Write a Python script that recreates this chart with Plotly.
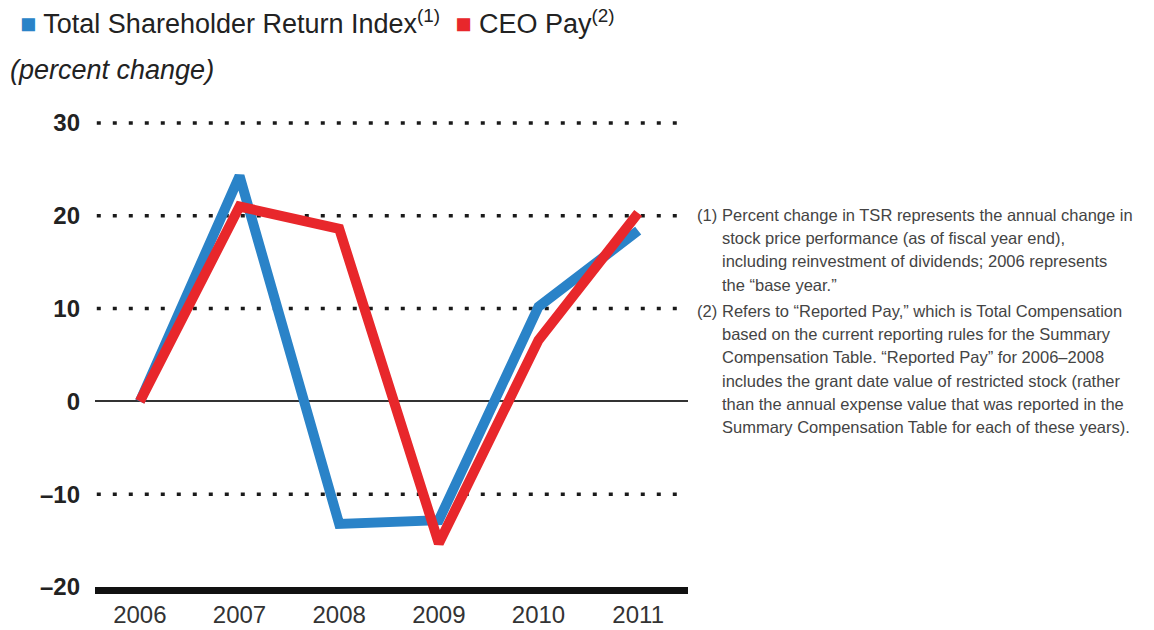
import plotly.graph_objects as go

# Data
years = [2006, 2007, 2008, 2009, 2010, 2011]
tsr_change = [0, 24.3, -13.2, -12.8, 10.2, 18.4]
ceo_pay_change = [0, 21.0, 18.6, -15.3, 6.6, 20.3]
y_ticks = [-20, -10, 0, 10, 20, 30]
y_tick_labels = ["–20", "–10", "0", "10", "20", "30"]

footnote_1 = [
    "Percent change in TSR represents the annual change in",
    "stock price performance (as of fiscal year end),",
    "including reinvestment of dividends; 2006 represents",
    "the “base year.”",
]
footnote_2 = [
    "Refers to “Reported Pay,” which is Total Compensation",
    "based on the current reporting rules for the Summary",
    "Compensation Table. “Reported Pay” for 2006–2008",
    "includes the grant date value of restricted stock (rather",
    "than the annual expense value that was reported in the",
    "Summary Compensation Table for each of these years).",
]

BLUE = "#2A83C8"
RED = "#E8272B"
FONT = "Liberation Sans, Arial, sans-serif"

W, H = 1154, 630
L, R, T, B = 95, 466, 119, 43
PW, PH = W - L - R, H - T - B
# 464 px spans the -20..30 scale; a little headroom keeps the top dotted line unclipped
Y_TOP = 30 + (PH - 464) * 50 / 464


def px(x, y):
    """Convert page pixel coordinates to paper coordinates."""
    return (x - L) / PW, (H - B - y) / PH


fig = go.Figure()
fig.add_trace(go.Scatter(x=years, y=tsr_change, mode="lines",
                         line=dict(color=BLUE, width=10),
                         name="Total Shareholder Return Index",
                         hoverinfo="x+y"))
fig.add_trace(go.Scatter(x=years, y=ceo_pay_change, mode="lines",
                         line=dict(color=RED, width=10),
                         name="CEO Pay", hoverinfo="x+y"))

fig.update_layout(
    width=W, height=H,
    margin=dict(l=L, r=R, t=T, b=B, autoexpand=False),
    paper_bgcolor="white", plot_bgcolor="white",
    showlegend=False,
    font=dict(family=FONT, color="#222"),
)

fig.update_xaxes(
    range=[2005.55, 2011.5],
    tickvals=years, ticktext=[str(y) for y in years],
    tickfont=dict(size=24, color="#333"),
    ticks="", ticklabelstandoff=0,
    showgrid=False, zeroline=False,
    showline=True, linecolor="#111", linewidth=7,
)
fig.update_yaxes(
    range=[-20, Y_TOP],
    tickvals=y_ticks, ticktext=y_tick_labels,
    tickfont=dict(size=24, color="#222", weight="bold"),
    ticks="", ticklabelstandoff=14,
    showgrid=False,
    zeroline=True, zerolinecolor="#333", zerolinewidth=1.5,
    showline=False,
)

# Dotted gridlines at every tick except the zero line and the base axis
for v in y_ticks:
    if v in (0, y_ticks[0]):
        continue
    fig.add_shape(type="line", xref="paper", yref="y", x0=0.003, x1=0.99, y0=v, y1=v,
                  line=dict(color="#1a1a1a", width=3.5, dash="4px,12px"), layer="below")

annotations = []

# Legend header
lx, ly = px(18, 22)
annotations.append(dict(
    x=lx, y=ly, xref="paper", yref="paper", xanchor="left", yanchor="middle",
    showarrow=False, font=dict(size=27, color="#222"),
    text=(f'<span style="color:{BLUE}">■</span> Total Shareholder Return Index'
          f'<sup>(1)</sup>  <span style="color:{RED}">■</span> CEO Pay<sup>(2)</sup>'),
))
sx, sy = px(8, 70)
annotations.append(dict(
    x=sx, y=sy, xref="paper", yref="paper", xanchor="left", yanchor="middle",
    showarrow=False, font=dict(size=27, color="#222"),
    text="<i>(percent change)</i>",
))

# Footnotes with hanging indent
def add_footnote(marker, lines, y0):
    mx, my = px(695, y0)
    annotations.append(dict(
        x=mx, y=my, xref="paper", yref="paper", xanchor="left", yanchor="middle",
        showarrow=False, font=dict(size=16.5, color="#444"), text=marker,
    ))
    for i, line in enumerate(lines):
        tx, ty = px(720, y0 + i * 23.2)
        annotations.append(dict(
            x=tx, y=ty, xref="paper", yref="paper", xanchor="left", yanchor="middle",
            showarrow=False, font=dict(size=16.5, color="#444"), text=line,
        ))


add_footnote("(1)", footnote_1, 215)
add_footnote("(2)", footnote_2, 311)

fig.update_layout(annotations=annotations)

fig.write_html("out.html")
